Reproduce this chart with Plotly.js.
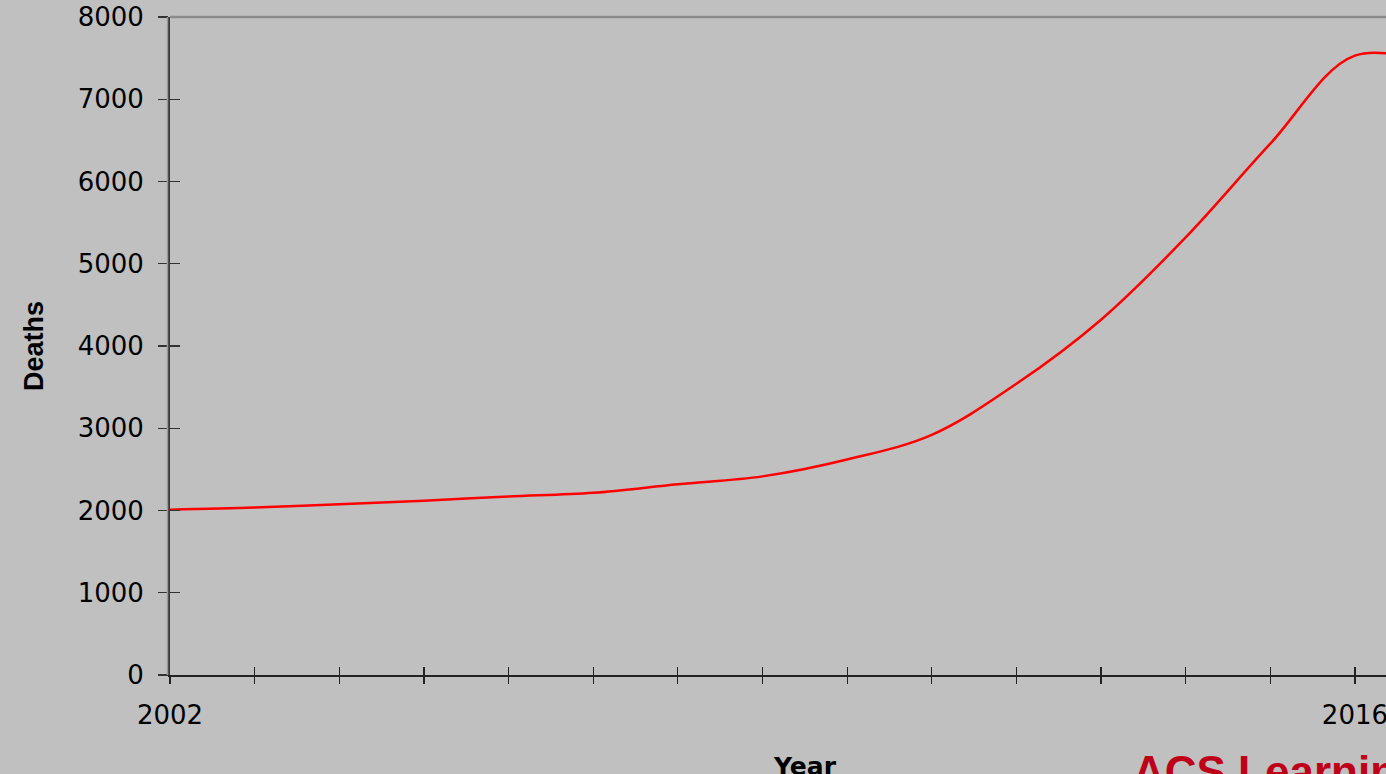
<!DOCTYPE html>
<html>
<head>
<meta charset="utf-8">
<script src="https://cdn.plot.ly/plotly-3.0.1.min.js"></script>
<style>
  html, body { margin: 0; padding: 0; background: #C0C0C0; overflow: hidden; }
  #chart { width: 1386px; height: 774px; }
</style>
</head>
<body>
<div id="chart"></div>
<script>
// Data
const years  = [2002, 2003, 2004, 2005, 2006, 2007, 2008, 2009, 2010, 2011, 2012, 2013, 2014, 2015, 2016, 2017];
const deaths = [2010, 2035, 2075, 2120, 2170, 2215, 2320, 2415, 2620, 2920, 3540, 4320, 5320, 6460, 7530, 7400];
const tickYears  = [2002, 2003, 2004, 2005, 2006, 2007, 2008, 2009, 2010, 2011, 2012, 2013, 2014, 2015, 2016];
const tickLabels = ['2002', '', '', '', '', '', '', '', '', '', '', '', '', '', '2016'];
const yTicks = [0, 1000, 2000, 3000, 4000, 5000, 6000, 7000, 8000];

const xRange = [2002, 2016.367];
const yRange = [0, 8000];
const tickFont = { family: 'DejaVu Sans, Arial, sans-serif', size: 26, color: '#000000' };

const trace = {
  x: years,
  y: deaths,
  type: 'scatter',
  mode: 'lines',
  line: { color: '#FF0000', width: 2.5, shape: 'spline', smoothing: 1 },
  hoverinfo: 'x+y',
  showlegend: false
};

const layout = {
  width: 1386,
  height: 774,
  paper_bgcolor: '#C0C0C0',
  plot_bgcolor: '#C0C0C0',
  margin: { l: 170, r: 0, t: 17, b: 99 },
  showlegend: false,
  xaxis: {
    range: xRange,
    tickmode: 'array',
    tickvals: tickYears,
    ticktext: tickLabels,
    ticks: 'outside',
    ticklen: 7,
    tickwidth: 1.2,
    tickcolor: '#222222',
    showline: true,
    linecolor: '#222222',
    linewidth: 1.5,
    showgrid: false,
    zeroline: false,
    tickfont: tickFont,
    ticklabelstandoff: 9,
    ticklabeloverflow: 'allow',
    fixedrange: true
  },
  xaxis2: {
    overlaying: 'x',
    range: xRange,
    tickmode: 'array',
    tickvals: tickYears,
    ticks: 'inside',
    ticklen: 8,
    tickwidth: 1.2,
    tickcolor: '#222222',
    showticklabels: false,
    showline: false,
    showgrid: false,
    zeroline: false,
    fixedrange: true
  },
  yaxis: {
    range: yRange,
    tickmode: 'array',
    tickvals: yTicks,
    ticks: 'outside',
    ticklen: 10,
    tickwidth: 1.2,
    tickcolor: '#333333',
    showline: true,
    linecolor: '#383838',
    linewidth: 2,
    showgrid: false,
    zeroline: false,
    tickfont: tickFont,
    ticklabelstandoff: 9,
    title: {
      text: 'Deaths',
      font: { family: 'Liberation Sans Narrow, Arial Narrow, Liberation Sans, Arial, sans-serif', size: 27, color: '#000000', weight: 'bold' },
      standoff: 26
    },
    fixedrange: true
  },
  yaxis2: {
    overlaying: 'y',
    side: 'left',
    range: yRange,
    tickmode: 'array',
    tickvals: yTicks,
    ticks: 'inside',
    ticklen: 10,
    tickwidth: 1.2,
    tickcolor: '#333333',
    showticklabels: false,
    showline: false,
    showgrid: false,
    zeroline: false,
    fixedrange: true
  },
  shapes: [
    { type: 'line', xref: 'paper', yref: 'paper', x0: 0, x1: 1, y0: 1, y1: 1,
      line: { color: '#8A8A8A', width: 2.5 } },
    { type: 'line', xref: 'paper', yref: 'paper', xsizemode: 'pixel', xanchor: 0,
      x0: -2.5, x1: -2.5, y0: 0, y1: 1, line: { color: '#9A9A9A', width: 1.5 } }
  ],
  annotations: [
    { text: '<b>Year</b>', xref: 'paper', yref: 'paper',
      x: (805 - 170) / 1216, y: (675 - 750) / 658, xanchor: 'center', yanchor: 'top',
      showarrow: false,
      font: { family: 'DejaVu Sans, Arial, sans-serif', size: 25, color: '#000000' } },
    { text: '<b>ACS Learning</b>', xref: 'paper', yref: 'paper',
      x: (1131 - 170) / 1216, y: (675 - 745) / 658, xanchor: 'left', yanchor: 'top',
      showarrow: false,
      font: { family: 'Liberation Sans, Arial, sans-serif', size: 44, color: '#BE0018' } }
  ]
};

// invisible carriers so the overlay axes (crossing tick marks) are drawn
const tickCarrierX = { x: [xRange[0]], y: [yRange[0]], xaxis: 'x2', yaxis: 'y', mode: 'markers',
  marker: { opacity: 0 }, hoverinfo: 'skip', showlegend: false, type: 'scatter' };
const tickCarrierY = { x: [xRange[0]], y: [yRange[0]], xaxis: 'x', yaxis: 'y2', mode: 'markers',
  marker: { opacity: 0 }, hoverinfo: 'skip', showlegend: false, type: 'scatter' };

Plotly.newPlot('chart', [trace, tickCarrierX, tickCarrierY], layout, { displayModeBar: false, staticPlot: true });
</script>
</body>
</html>
